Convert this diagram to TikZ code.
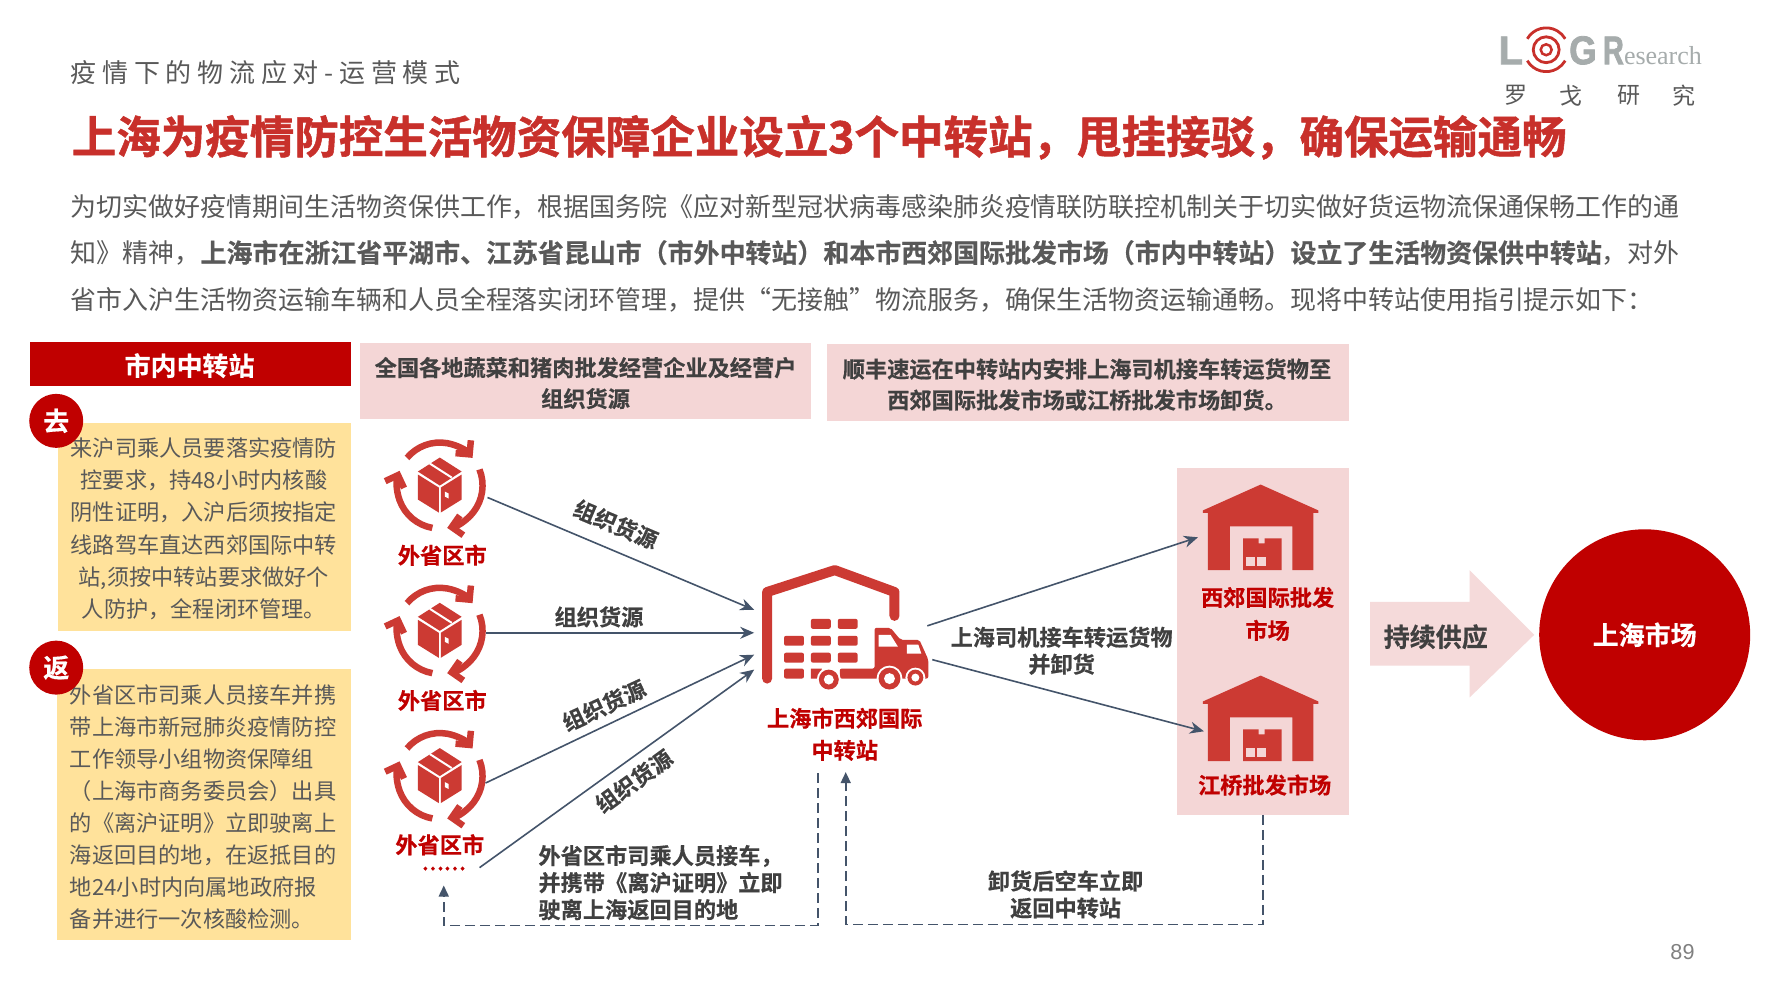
\documentclass[tikz,border=0pt]{standalone}
\usepackage{fontspec}
\setmainfont{Noto Sans CJK SC}[BoldFont={Noto Sans CJK SC Bold},BoldFeatures={FakeBold=0.5}]
\newfontfamily\subfont[LetterSpace=22]{Noto Sans CJK SC}
\newfontfamily\titlefont[FakeBold=1.2]{Noto Sans CJK SC Bold}
\newfontfamily\logofont[FakeBold=2]{Liberation Sans Bold}
\newfontfamily\pagefont{Liberation Sans}
\newfontfamily\logoserif{Liberation Serif}
\usetikzlibrary{arrows.meta}
\definecolor{gtext}{HTML}{595959}
\definecolor{dtext}{HTML}{404040}
\definecolor{titlered}{HTML}{C8302B}
\definecolor{darkred}{HTML}{C00000}
\definecolor{iconred}{HTML}{CC3A33}
\definecolor{pinkbg}{HTML}{F4D6D6}
\definecolor{yellowbg}{HTML}{FFE29B}
\definecolor{slate}{HTML}{44546A}
\definecolor{logogray}{HTML}{A6ACAC}
\tikzset{
 every node/.style={inner sep=0pt},
 body/.style={anchor=west,text=gtext,font=\fontsize{25.95}{26}\selectfont},
 redlab/.style={align=center,text=darkred,font=\fontsize{22.2}{32}\selectfont\bfseries},
 graylab/.style={align=center,text=dtext,font=\fontsize{22.2}{27}\selectfont\bfseries},
 pinkhead/.style={fill=pinkbg},
 headtext/.style={align=center,text=dtext,font=\fontsize{22.2}{31}\selectfont\bfseries},
 notebox/.style={fill=yellowbg},
 notetext/.style={text=gtext,font=\fontsize{22.2}{32.1}\selectfont},
 badge/.style={circle,fill=darkred,minimum size=54pt,text=white,font=\fontsize{26}{26}\selectfont\bfseries},
 flow/.style={draw=slate,line width=1.6pt,-{Stealth[length=14pt,width=12pt]}},
 backflow/.style={draw=slate,line width=1.6pt,dash pattern=on 10pt off 5pt,-{Triangle[length=11pt,width=10pt]}},
 cycleicon/.pic={
  \begin{scope}[y=1pt]
   \draw[iconred,line width=6.5pt,-{Straight Barb[length=10pt,width=20pt,line width=6.5pt]}] (140:43) arc[start angle=140,end angle=40,radius=43];
   \draw[iconred,line width=6.5pt,-{Straight Barb[length=10pt,width=20pt,line width=6.5pt]}] (22:43) arc[start angle=22,end angle=-80,radius=43];
   \draw[iconred,line width=6.5pt,-{Straight Barb[length=10pt,width=20pt,line width=6.5pt]}] (-100:43) arc[start angle=-100,end angle=-200,radius=43];
   \fill[iconred] (0,28)--(22,14)--(0,0)--(-22,14)--cycle;
   \fill[iconred] (-22,11)--(-1,-2)--(-1,-27)--(-22,-14)--cycle;
   \fill[iconred] (22,11)--(1,-2)--(1,-27)--(22,-14)--cycle;
   \draw[white,line width=2pt] (-10,22)--(12,8);
   \fill[white] (5,-6)--(9,-8)--(9,-13)--(5,-11)--cycle;
  \end{scope}
 },
 wareicon/.pic={
  \fill[iconred] (0,0)--(58,26)--(58,28.5)--(53,28.5)--(53,86)--(32,86)--(32,42)--(-31,42)--(-31,86)--(-53,86)--(-53,28.5)--(-58,28.5)--(-58,26)--cycle;
  \fill[iconred] (-17.5,54)--(-2,54)--(-2,59)--(4,59)--(4,54)--(21,54)--(21,86)--(-17.5,86)--cycle;
  \fill[pinkbg] (-15,73)--(-6,73)--(-6,82)--(-15,82)--cycle;
  \fill[pinkbg] (-4,73)--(5,73)--(5,82)--(-4,82)--cycle;
 },
 bigname/.style={text=white,font=\fontsize{26}{26}\selectfont\bfseries}
}
\begin{document}
\begin{tikzpicture}[x=0.995pt,y=-0.995pt]
 \useasboundingbox[fill=white] (0,0) rectangle (1787,1005);
 % heading
 \node[anchor=west,text=gtext,font=\subfont\fontsize{26}{26}\selectfont] (sub) at (71,73) {疫情下的物流应对-运营模式};
 \node[anchor=west,text=titlered,font=\titlefont\fontsize{44.5}{46}\selectfont] (title) at (72,138) {上海为疫情防控生活物资保障企业设立3个中转站，甩挂接驳，确保运输通畅};
 \node[body] (line1) at (71,207.5) {为切实做好疫情期间生活物资保供工作，根据国务院《应对新型冠状病毒感染肺炎疫情联防联控机制关于切实做好货运物流保通保畅工作的通};
 \node[body] (line2) at (71,254) {知》精神，\textbf{上海市在浙江省平湖市、江苏省昆山市（市外中转站）和本市西郊国际批发市场（市内中转站）设立了生活物资保供中转站}，对外};
 \node[body] (line3) at (71,301) {省市入沪生活物资运输车辆和人员全程落实闭环管理，提供“无接触”物流服务，确保生活物资运输通畅。现将中转站使用指引提示如下：};
 % logo
 \node[anchor=base west,text=logogray,font=\logofont\fontsize{40}{40}\selectfont] (logol) at (1506,64.5) {L};
 \draw[titlered,line width=2.8pt] (1554,50) circle(13);
 \draw[titlered,line width=2.5pt] (1554,50) circle(5.5);
 \draw[titlered,line width=2.8pt] (1535,39) arc[start angle=210,end angle=330,radius=22];
 \draw[titlered,line width=2.8pt] (1535,61) arc[start angle=150,end angle=30,radius=22];
 \node[anchor=base west,xscale=.88,text=logogray,font=\logofont\fontsize{40}{40}\selectfont] (logog) at (1577,64.5) {G};
 \node[anchor=base west,xscale=.72,text=logogray,font=\logofont\fontsize{40}{40}\selectfont] (logor) at (1611,64.5) {R};
 \node[anchor=base west,text=logogray,font=\logoserif\fontsize{26}{26}\selectfont] (logoe) at (1632,64.5) {esearch};
 \node[text=gtext,font=\fontsize{23}{23}\selectfont] (logo1) at (1524,96) {罗};
 \node[text=gtext,font=\fontsize{23}{23}\selectfont] (logo2) at (1579,96) {戈};
 \node[text=gtext,font=\fontsize{23}{23}\selectfont] (logo3) at (1637,96) {研};
 \node[text=gtext,font=\fontsize{23}{23}\selectfont] (logo4) at (1693,96) {究};
 % left column
 \node[fill=darkred,minimum width=321.5pt,minimum height=43.8pt] (bar) at (191.5,366) {};
 \node[text=white,font=\fontsize{26}{26}\selectfont\bfseries] (bartext) at (190.5,367.5) {市内中转站};
 \node[notebox,minimum width=293.5pt,minimum height=208pt] (gobox) at (205.5,529.5) {};
 \node[notetext,align=center] (gotext) at (205,531.5) {来沪司乘人员要落实疫情防\\控要求，持48小时内核酸\\阴性证明，入沪后须按指定\\线路驾车直达西郊国际中转\\站,须按中转站要求做好个\\人防护，全程闭环管理。};
 \node[notebox,minimum width=294.5pt,minimum height=271.6pt] (backbox) at (205,808.5) {};
 \node[notetext,align=left,text width=268pt] (backtext) at (205,811) {外省区市司乘人员接车并携\\带上海市新冠肺炎疫情防控\\工作领导小组物资保障组\\（上海市商务委员会）出具\\的《离沪证明》立即驶离上\\海返回目的地，在返抵目的\\地24小时内向属地政府报\\备并进行一次核酸检测。};
 \node[badge] (go) at (56.5,423) {去};
 \node[badge] (back) at (56.5,671) {返};
 % top pink boxes
 \node[pinkhead,minimum width=450.7pt,minimum height=75.6pt] (heada) at (588.5,383) {};
 \node[headtext] (headatext) at (588.5,385) {全国各地蔬菜和猪肉批发经营企业及经营户\\组织货源};
 \node[pinkhead,minimum width=522.4pt,minimum height=76.6pt] (headb) at (1093.5,384.5) {};
 \node[headtext] (headbtext) at (1092.5,386.5) {顺丰速运在中转站内安排上海司机接车转运货物至\\西郊国际批发市场或江桥批发市场卸货。};
 \node[fill=pinkbg,minimum width=172pt,minimum height=347pt] (mkt) at (1269.5,644.5) {};
 % sources
 \foreach \i/\y in {1/488,2/634,3/780}
  \pic at (442,\y) {cycleicon};
 \node[redlab] (src1) at (444.5,558) {外省区市};
 \node[redlab] (src2) at (444.5,704) {外省区市};
 \node[redlab] (src3) at (442,849) {外省区市};
 \node[redlab,font=\fontsize{20}{20}\selectfont\bfseries] (src4) at (446,873) {……};
 % hub
 \draw[iconred,line width=10pt,line cap=round,line join=round] (771,682)--(771,595)--(839,573)--(899,595)--(899,619);
 \foreach \x/\y in {815/622,842/622,788/639,815/639,842/639,788/656,815/656,842/656,788/672}
  \fill[iconred,rounded corners=2pt] (\x,\y) rectangle +(20,10);
 \fill[iconred] (815,672)--(826,672)--(824,682)--(815,682)--cycle;
 \fill[iconred,rounded corners=2pt] (879,631)--(895,631)--(905,643)--(924,643)--(933,663)--(933,682)--(844,682)--(844,672)--(879,672)--cycle;
 \fill[white] (883,638)--(895,638)--(902.5,650)--(883,650)--cycle;
 \fill[white] (911.5,648)--(923,648)--(926,657)--(911.5,657)--cycle;
 \foreach \x/\y/\r in {833/683/10,894/682/11,920/681/8}{
  \fill[white] (\x,\y) circle(\r+2);
  \fill[iconred] (\x,\y) circle(\r);
  \fill[white] (\x,\y) circle(\r*0.5);
 }
 \node[redlab] (hub) at (849,738) {上海市西郊国际\\中转站};
 % markets
 \pic at (1267,487) {wareicon};
 \pic at (1267,679) {wareicon};
 \node[redlab,font=\fontsize{22.2}{33}\selectfont\bfseries] (mkt1) at (1274,617) {西郊国际批发\\市场};
 \node[redlab] (mkt2) at (1271,789) {江桥批发市场};
 % supply arrow and circle
 \fill[pinkbg!90!white] (1377,605)--(1477,605)--(1477,573)--(1542,638)--(1477,701)--(1477,669)--(1377,669)--cycle;
 \node[text=dtext,font=\fontsize{26}{26}\selectfont\bfseries] (supply) at (1443,640) {持续供应};
 \node[circle,fill=darkred,minimum size=211pt,bigname] (city) at (1653,638) {上海市场};
 % connector ends
 \coordinate (out1) at (490,500);
 \coordinate (out2) at (488,636);
 \coordinate (out3) at (488,787);
 \coordinate (out4) at (482,872);
 \coordinate (in1) at (758,613);
 \coordinate (in2) at (758,636);
 \coordinate (in3) at (758,658);
 \coordinate (in4) at (758,673);
 \coordinate (hubout1) at (932,629);
 \coordinate (hubout2) at (937,663);
 \coordinate (mktin1) at (1204,540);
 \coordinate (mktin2) at (1210,735);
 \draw[flow] (out1)--(in1);
 \draw[flow] (out2)--(in2);
 \draw[flow] (out3)--(in3);
 \draw[flow] (out4)--(in4);
 \draw[flow] (hubout1)--(mktin1);
 \draw[flow] (hubout2)--(mktin2);
 \coordinate (retstart) at (822,777);
 \coordinate (retc1) at (822,930);
 \coordinate (retc2) at (446,930);
 \coordinate (retend) at (446,890);
 \draw[backflow] (retstart)--(retc1)--(retc2)--(retend);
 \coordinate (emptyc1) at (1269.5,929);
 \coordinate (emptyc2) at (850,929);
 \coordinate (emptyend) at (850,776);
 \draw[backflow] (mkt.south)--(emptyc1)--(emptyc2)--(emptyend);
 % connector labels
 \node[graylab,rotate=-23] (org1) at (619,527) {组织货源};
 \node[graylab] (org2) at (602,620) {组织货源};
 \node[graylab,rotate=25] (org3) at (607,709) {组织货源};
 \node[graylab,rotate=36] (org4) at (637,785) {组织货源};
 \node[graylab] (drv) at (1067,654) {上海司机接车转运货物\\并卸货};
 \node[graylab,align=left,anchor=west] (leave) at (541,887) {外省区市司乘人员接车，\\并携带《离沪证明》立即\\驶离上海返回目的地};
 \node[graylab] (empty) at (1071,899) {卸货后空车立即\\返回中转站};
 \node[text=gray,font=\pagefont\fontsize{21.6}{22}\selectfont] (page) at (1691,957) {89};
\end{tikzpicture}
\end{document}
